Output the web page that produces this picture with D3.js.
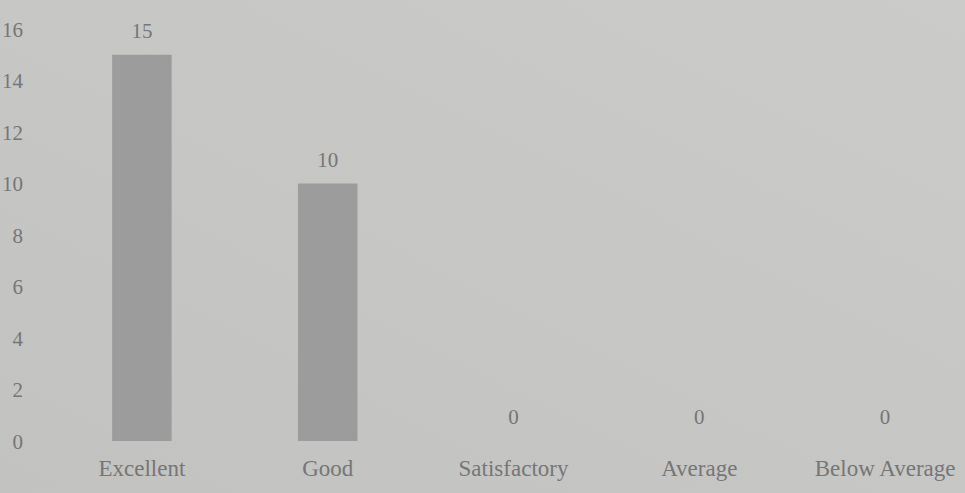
<!DOCTYPE html>
<html>
<head>
<meta charset="utf-8">
<script src="https://cdn.jsdelivr.net/npm/d3@7"></script>
<style>
  html, body { margin: 0; padding: 0; background: #c6c6c5; }
  svg { display: block; }
  text { font-family: "Liberation Serif", "DejaVu Serif", serif; fill: #767676; }
</style>
</head>
<body>
<svg id="chart_svg" width="965" height="493"></svg>
<script>
const categories = ["Excellent", "Good", "Satisfactory", "Average", "Below Average"];
const counts = [15, 10, 0, 0, 0];
const yTicks = [0, 2, 4, 6, 8, 10, 12, 14, 16];

const svg = d3.select("#chart_svg");
const width = 965, height = 493;

// background with slight lighting like the photo
const defs = svg.append("defs");
const grad = defs.append("linearGradient")
  .attr("id", "bg").attr("x1", "0").attr("y1", "1").attr("x2", "1").attr("y2", "0");
grad.append("stop").attr("offset", "0").attr("stop-color", "#c2c2c1");
grad.append("stop").attr("offset", "1").attr("stop-color", "#cbcbca");
svg.append("rect").attr("width", width).attr("height", height).attr("fill", "url(#bg)");

const xScale = d3.scaleBand()
  .domain(categories)
  .range([49, 978])
  .paddingInner(0.68)
  .paddingOuter(0.34);

const yScale = d3.scaleLinear()
  .domain([0, 16])
  .range([441, 29]);

// y axis: labels only, no line or ticks
const yAxis = d3.axisLeft(yScale).tickValues(yTicks).tickSize(0).tickPadding(0);
const gY = svg.append("g")
  .attr("transform", "translate(23,0)")
  .call(yAxis);
gY.select(".domain").remove();
gY.selectAll("text")
  .attr("font-family", null)
  .style("font-size", "21px")
  .attr("dy", "0.35em");

// bars
svg.append("g")
  .selectAll("rect")
  .data(counts)
  .join("rect")
  .attr("x", (d, i) => xScale(categories[i]))
  .attr("y", d => yScale(d))
  .attr("width", xScale.bandwidth())
  .attr("height", d => yScale(0) - yScale(d))
  .attr("fill", "#9c9c9d");

// value labels
svg.append("g")
  .selectAll("text")
  .data(counts)
  .join("text")
  .attr("x", (d, i) => xScale(categories[i]) + xScale.bandwidth() / 2)
  .attr("y", d => yScale(d) - 17)
  .attr("text-anchor", "middle")
  .style("font-size", "21px")
  .text(d => d);

// x axis: category labels
const xAxis = d3.axisBottom(xScale).tickSize(0).tickPadding(0);
const gX = svg.append("g")
  .attr("transform", "translate(0,460)")
  .call(xAxis);
gX.select(".domain").remove();
gX.selectAll("text")
  .attr("font-family", null)
  .style("font-size", "23px")
  .attr("dy", "0.71em");
</script>
</body>
</html>
